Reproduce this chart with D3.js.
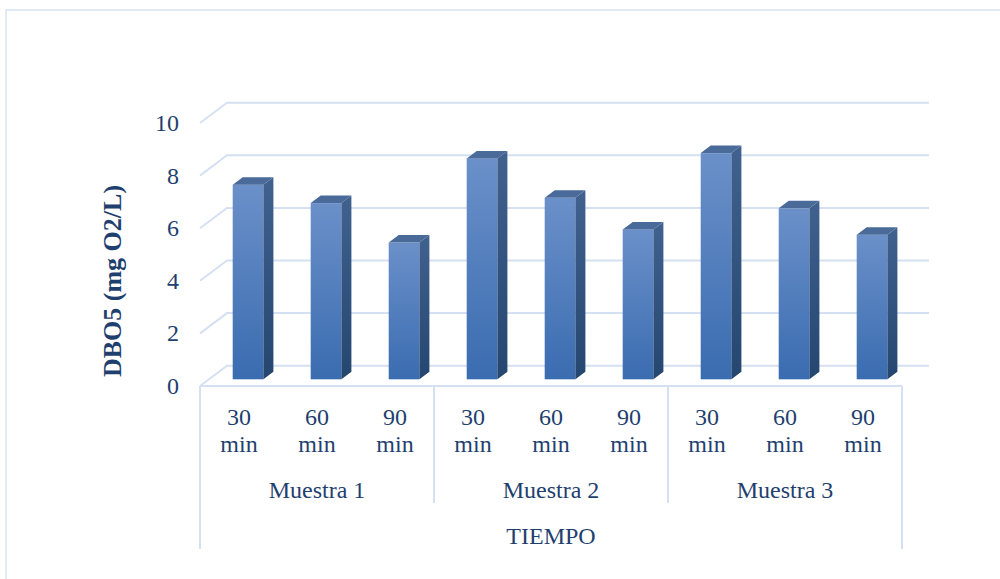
<!DOCTYPE html>
<html>
<meta charset="utf-8">
<style>
body { margin: 0; background: #fff; }
text { font-family: "Liberation Serif", "Times New Roman", serif; fill: #1f3f6f; }
</style>
<body>
</body>
<script src="https://cdn.jsdelivr.net/npm/d3@7"></script>
<script>

var muestras = ["Muestra 1", "Muestra 2", "Muestra 3"];
var tiempos = ["30 min", "60 min", "90 min"];
var dbo5 = [7.4, 6.7, 5.2, 8.4, 6.9, 5.7, 8.6, 6.5, 5.5];
var yTicks = [0, 2, 4, 6, 8, 10];

var width = 1000,
    height = 579;

// depth of the 3d box and of the bars
var depth = {dx: 27, dy: -20.3};
var barDepth = {dx: 10, dy: -7.5};

var svg = d3.select("body").append("svg")
    .attr("width", width)
    .attr("height", height);

var defs = svg.append("defs");
var gFront = defs.append("linearGradient").attr("id", "front")
    .attr("x1", 0).attr("y1", 0).attr("x2", 0).attr("y2", 1);
gFront.append("stop").attr("offset", "0%").attr("stop-color", "#6b90c9");
gFront.append("stop").attr("offset", "100%").attr("stop-color", "#3a6cb0");
var gSide = defs.append("linearGradient").attr("id", "side")
    .attr("x1", 0).attr("y1", 0).attr("x2", 0).attr("y2", 1);
gSide.append("stop").attr("offset", "0%").attr("stop-color", "#41618f");
gSide.append("stop").attr("offset", "100%").attr("stop-color", "#24466f");

// outer chart border
svg.append("rect")
    .attr("x", 6).attr("y", 10)
    .attr("width", 1010).attr("height", 600)
    .attr("fill", "none")
    .attr("stroke", "#d9e3f4")
    .attr("stroke-width", 1.5);

var keys = [];
muestras.forEach(function (m) {
  tiempos.forEach(function (t) { keys.push(m + "|" + t); });
});

var x = d3.scaleBand().domain(keys).range([200, 902]);
var xGroup = d3.scaleBand().domain(muestras).range([200, 902]);
var y = d3.scaleLinear().domain([0, 10]).range([386, 123]);

var grid = svg.append("g").attr("class", "grid");

grid.selectAll("path").data(yTicks).enter()
  .append("path")
    .attr("fill", "none")
    .attr("stroke", "#d5e0f2")
    .attr("stroke-width", 2)
    .attr("d", function (d) {
      var yb = y(d) + depth.dy;
      return "M" + x.range()[0] + "," + y(d) +
             " L" + (x.range()[0] + depth.dx) + "," + yb +
             " L" + (x.range()[1] + depth.dx) + "," + yb;
    });

// floor front edge
grid.append("path")
    .attr("fill", "none")
    .attr("stroke", "#d5e0f2")
    .attr("stroke-width", 2)
    .attr("d", "M" + x.range()[0] + "," + y(0) + " L" + x.range()[1] + "," + y(0));

// y labels
svg.append("g").selectAll("text").data(yTicks).enter()
  .append("text")
    .attr("x", 179)
    .attr("y", function (d) { return y(d) + 8; })
    .attr("text-anchor", "end")
    .attr("font-size", 24)
    .text(function (d) { return d; });

svg.append("text")
    .attr("transform", "translate(121,281) rotate(-90)")
    .attr("text-anchor", "middle")
    .attr("font-size", 26)
    .attr("font-weight", "bold")
    .text("DBO5 (mg O2/L)");

// bars
var barOffset = 32.7,
    barWidth = 30.7,
    barLift = 6.7;

var bars = svg.append("g").selectAll("g").data(dbo5).enter()
  .append("g");

bars.each(function (d, i) {
  var g = d3.select(this);
  var bx = x(keys[i]) + barOffset;
  var bottom = y(0) - barLift;
  var top = bottom - (y(0) - y(d));
  var r = bx + barWidth;
  g.append("rect")
      .attr("x", bx).attr("y", top)
      .attr("width", barWidth).attr("height", bottom - top)
      .attr("fill", "url(#front)");
  g.append("path")
      .attr("fill", "url(#side)")
      .attr("d", "M" + r + "," + top + " L" + (r + barDepth.dx) + "," + (top + barDepth.dy) +
                 " L" + (r + barDepth.dx) + "," + (bottom + barDepth.dy) + " L" + r + "," + bottom + "Z");
  g.append("path")
      .attr("fill", "#4a6b99")
      .attr("d", "M" + bx + "," + top + " L" + (bx + barDepth.dx) + "," + (top + barDepth.dy) +
                 " L" + (r + barDepth.dx) + "," + (top + barDepth.dy) + " L" + r + "," + top + "Z");
});

// category axis lines
var axisLines = svg.append("g")
    .attr("stroke", "#d5e0f2")
    .attr("stroke-width", 2);

axisLines.selectAll("line.div").data(muestras.slice(1)).enter()
  .append("line")
    .attr("x1", function (d) { return xGroup(d); })
    .attr("x2", function (d) { return xGroup(d); })
    .attr("y1", y(0)).attr("y2", 503);

axisLines.selectAll("line.side").data(x.range()).enter()
  .append("line")
    .attr("x1", function (d) { return d; })
    .attr("x2", function (d) { return d; })
    .attr("y1", y(0)).attr("y2", 549);

// category labels
var cat = svg.append("g").selectAll("text").data(keys).enter()
  .append("text")
    .attr("text-anchor", "middle")
    .attr("font-size", 24)
    .attr("x", function (d) { return x(d) + x.bandwidth() / 2; });

cat.append("tspan")
    .attr("x", function (d) { return x(d) + x.bandwidth() / 2; })
    .attr("y", 425)
    .text(function (d) { return d.split("|")[1].split(" ")[0]; });
cat.append("tspan")
    .attr("x", function (d) { return x(d) + x.bandwidth() / 2; })
    .attr("y", 452)
    .text(function (d) { return d.split("|")[1].split(" ")[1]; });

svg.append("g").selectAll("text").data(muestras).enter()
  .append("text")
    .attr("text-anchor", "middle")
    .attr("font-size", 24)
    .attr("x", function (d) { return xGroup(d) + xGroup.bandwidth() / 2; })
    .attr("y", 498)
    .text(function (d) { return d; });

svg.append("text")
    .attr("text-anchor", "middle")
    .attr("font-size", 24)
    .attr("x", (x.range()[0] + x.range()[1]) / 2)
    .attr("y", 544)
    .text("TIEMPO");

</script>
</html>
